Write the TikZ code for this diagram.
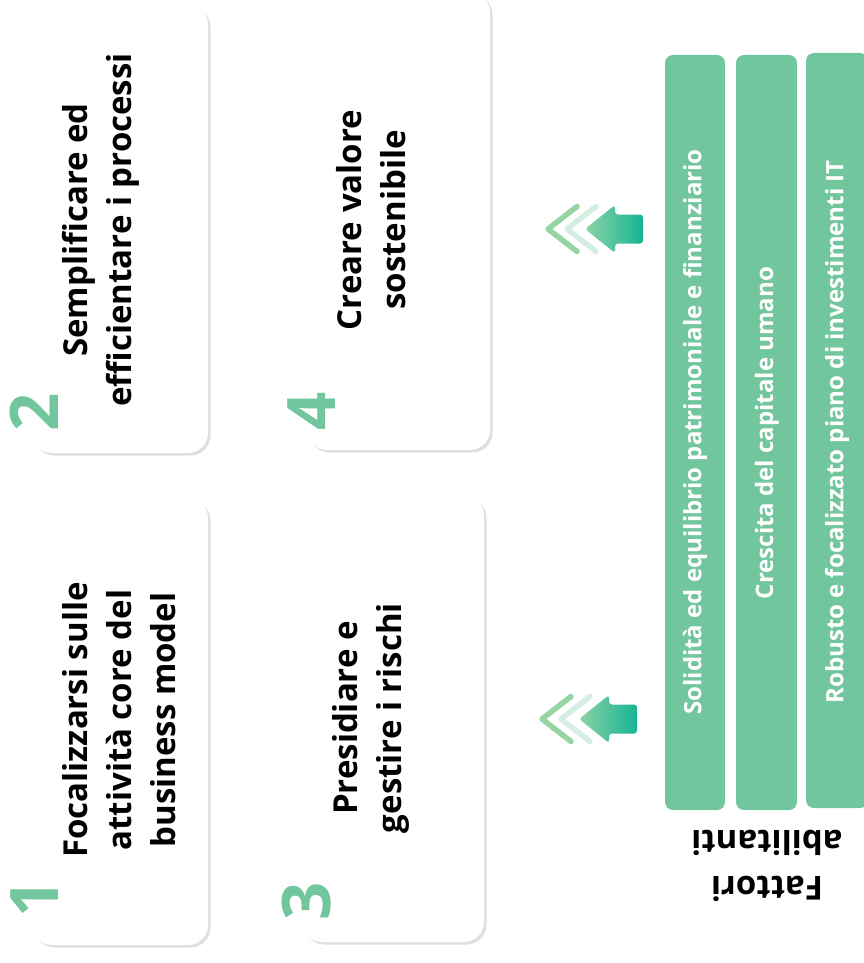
\documentclass[tikz,border=0pt]{standalone}
\usepackage{fontspec}
\setmainfont{Open Sans}
\usepackage{tikz}
\usetikzlibrary{shadows}
\definecolor{fgreen}{RGB}{113,198,157}
\definecolor{chevlight}{RGB}{150,213,163}
\definecolor{chevpale}{RGB}{214,238,225}
\definecolor{arrowlight}{RGB}{141,211,166}
\definecolor{arrowteal}{RGB}{22,180,149}

\begin{document}
\begin{tikzpicture}[x=1pt, y=-1pt,
	card/.style={fill=white, rounded corners=20pt, drop shadow={shadow xshift=2.5pt, shadow yshift=-2.5pt, fill=black!25}},
	bar/.style={fill=fgreen, rounded corners=8pt},
	goal/.style={rotate=90, anchor=north, inner sep=0pt, align=center, font=\fontsize{33}{44}\selectfont\bfseries},
	num/.style={rotate=90, anchor=base, inner sep=0pt, text=fgreen, font=\fontsize{67}{67}\selectfont\bfseries},
	factor/.style={rotate=90, inner sep=0pt, text=white, font=\fontsize{24}{28}\selectfont\bfseries},
	chev/.style={line width=5.5pt, line cap=round, line join=round}]
		\useasboundingbox (0,0) rectangle (863,963);
		%% obiettivi
		\path[card] (32,498) rectangle (208,945);
		\path[card] (32,5) rectangle (208,453);
		\path[card] (302,495) rectangle (484,942);
		\path[card] (307,-8) rectangle (490,450);
		
		\node[goal] (goal1) at (62,720) {Focalizzarsi sulle\\attività core del\\business model};
		\node[goal] (goal2) at (62,230) {Semplificare ed\\efficientare i processi};
		\node[goal] (goal3) at (332,718) {Presidiare e\\gestire i rischi};
		\node[goal] (goal4) at (336,220) {Creare valore\\sostenibile};
		
		\node[num] (n1) at (58,898) {1};
		\node[num] (n2) at (58,412) {2};
		\node[num] (n3) at (330,901) {3};
		\node[num] (n4) at (335,411) {4};
		
		%% fattori abilitanti
		\path[bar] (665,55) rectangle (725,810);
		\path[bar] (736,55) rectangle (797,810);
		\path[bar] (806,53) rectangle (868,808);
		\node[factor] (fat1) at (695,432) {Solidità ed equilibrio patrimoniale e finanziario};
		\node[factor] (fat2) at (767,433) {Crescita del capitale umano};
		\node[factor] (fat3) at (837,432) {Robusto e focalizzato piano di investimenti IT};
		\node[rotate=180, align=center, inner sep=0pt, font=\fontsize{33}{46}\selectfont\bfseries] (fab) at (767,866) {Fattori\\abilitanti};
		
		%% frecce
		\foreach \ax/\ay in {548/229, 542/719} {
			\begin{scope}[shift={(\ax,\ay)}]
				\draw[chev, chevlight] (29,-22.5) -- (0,0) -- (29,22.5);
				\draw[chev, chevpale] (48,-22.5) -- (19,0) -- (48,22.5);
				\path[left color=arrowlight, right color=arrowteal, rounded corners=3pt]
					(37,0) -- (67,-24) -- (67,-14.5) -- (95,-14.5) -- (95,14.5) -- (67,14.5) -- (67,24) -- cycle;
			\end{scope}
		}
\end{tikzpicture}
\end{document}
